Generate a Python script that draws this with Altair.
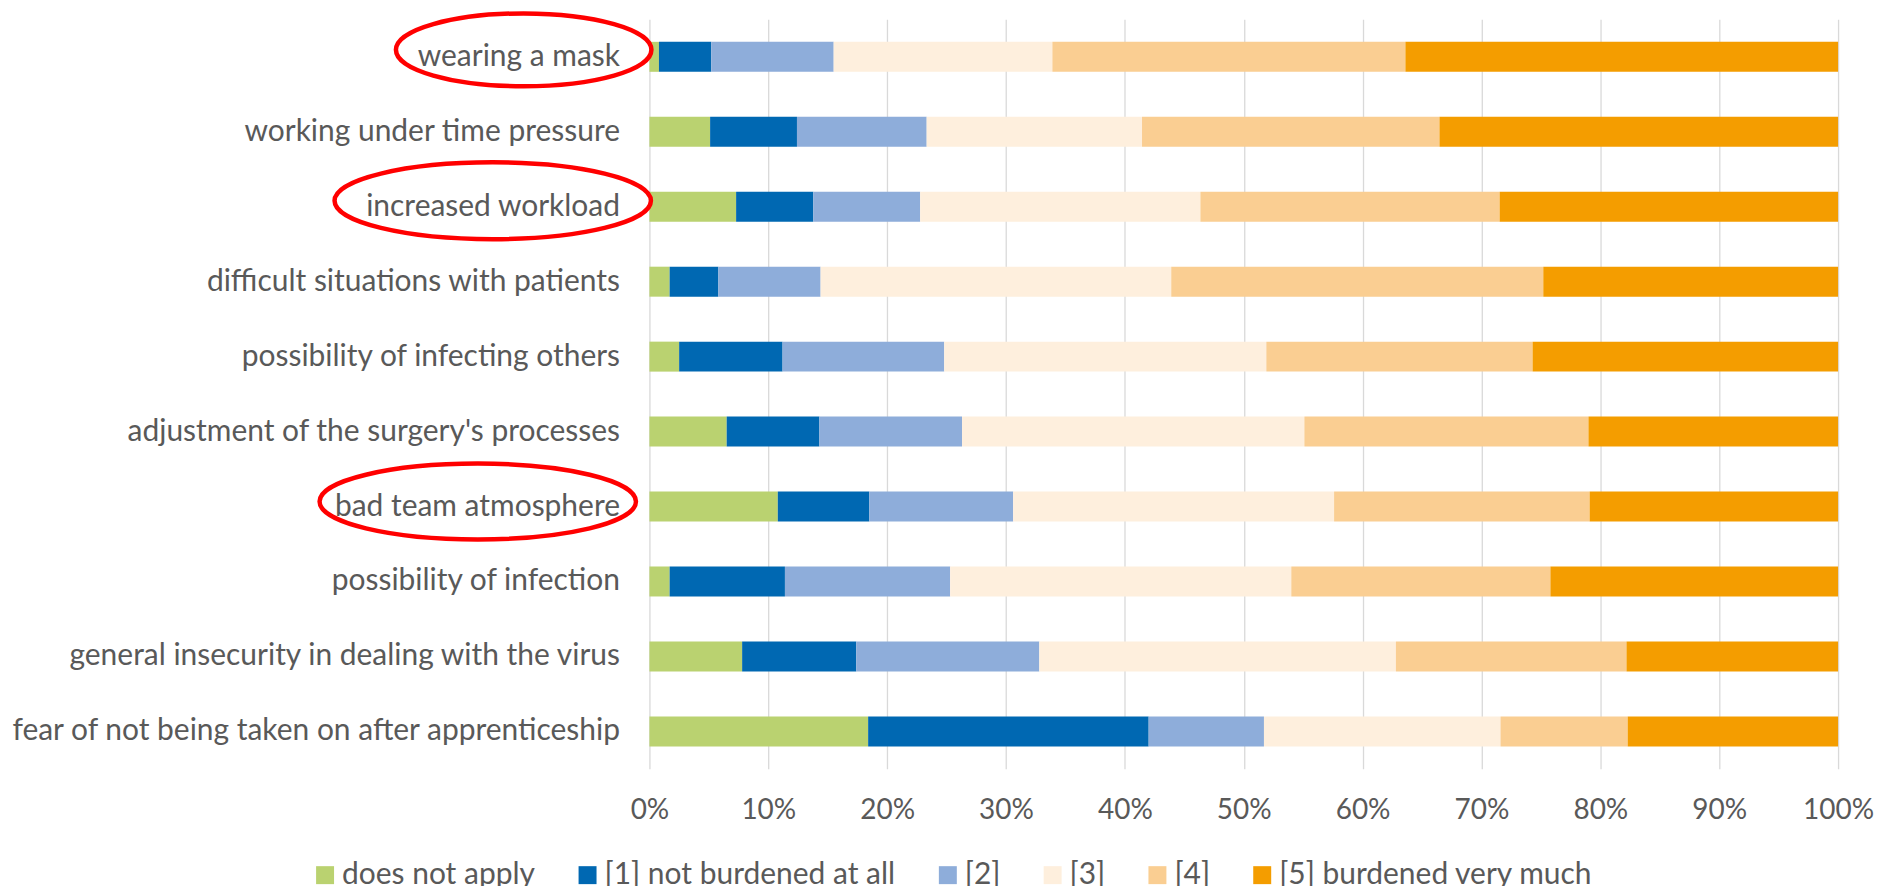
import altair as alt
import pandas as pd

# ---------------- data ----------------
categories = [
    "wearing a mask",
    "working under time pressure",
    "increased workload",
    "difficult situations with patients",
    "possibility of infecting others",
    "adjustment of the surgery's processes",
    "bad team atmosphere",
    "possibility of infection",
    "general insecurity in dealing with the virus",
    "fear of not being taken on after apprenticeship",
]
levels = [
    "does not apply",
    "[1] not burdened at all",
    "[2]",
    "[3]",
    "[4]",
    "[5] burdened very much",
]
colors = ["#BAD270", "#0068B2", "#8EADDA", "#FEEFDD", "#FACE92", "#F49D00"]

does_not_apply = [0.8, 5.1, 7.3, 1.7, 2.5, 6.5, 10.8, 1.7, 7.8, 18.4]
not_burdened_at_all = [4.4, 7.3, 6.5, 4.1, 8.7, 7.8, 7.7, 9.7, 9.6, 23.6]
level_2 = [10.3, 10.9, 9.0, 8.6, 13.6, 12.0, 12.1, 13.9, 15.4, 9.7]
level_3 = [18.4, 18.1, 23.6, 29.5, 27.1, 28.8, 27.0, 28.7, 30.0, 19.9]
level_4 = [29.7, 25.0, 25.2, 31.3, 22.4, 23.9, 21.5, 21.8, 19.4, 10.7]
burdened_very_much = [36.4, 33.5, 28.5, 24.8, 25.7, 21.0, 20.9, 24.2, 17.8, 17.7]

highlighted = ["wearing a mask", "increased workload", "bad team atmosphere"]

x_ticks = [0, 0.1, 0.2, 0.3, 0.4, 0.5, 0.6, 0.7, 0.8, 0.9, 1.0]

# ---------------- build table ----------------
series = [does_not_apply, not_burdened_at_all, level_2, level_3, level_4, burdened_very_much]
rows = []
for li, (lvl, vals) in enumerate(zip(levels, series)):
    for cat, v in zip(categories, vals):
        rows.append({"category": cat, "level": lvl, "order": li, "value": v})
df = pd.DataFrame(rows)

FONT = "Lato"
TXT = "#595959"

y_enc = alt.Y(
    "category:N",
    sort=categories,
    scale=alt.Scale(paddingInner=0.6, paddingOuter=0.3),
    axis=alt.Axis(
        title=None, domain=False, ticks=False, labelPadding=30,
        labelFontSize=30, labelFont=FONT, labelColor=TXT, labelLimit=900,
    ),
)

bars = alt.Chart(df).mark_bar().encode(
    x=alt.X(
        "value:Q",
        stack="normalize",
        scale=alt.Scale(domain=[0, 1], nice=False),
        axis=alt.Axis(
            title=None, values=x_ticks, format=".0%", grid=True,
            gridColor="#D9D9D9", gridWidth=1.3, domain=False, ticks=False,
            labelPadding=28, labelFontSize=28, labelFont=FONT, labelColor=TXT,
            labelFlush=False,
        ),
    ),
    y=y_enc,
    color=alt.Color(
        "level:N",
        scale=alt.Scale(domain=levels, range=colors),
        legend=alt.Legend(
            title=None, orient="none", legendX=-340, legendY=842.5,
            direction="horizontal", columns=6, columnPadding=37,
            symbolType="square", symbolSize=324, symbolStrokeWidth=0,
            labelOffset=2, labelFontSize=30, labelFont=FONT, labelColor=TXT,
            labelLimit=0, padding=0,
        ),
    ),
    order=alt.Order("order:Q"),
)


def ellipse_path(rx, ry):
    k = 0.5523
    return (
        f"M {-rx} 0 "
        f"C {-rx} {-k * ry} {-k * rx} {-ry} 0 {-ry} "
        f"C {k * rx} {-ry} {rx} {-k * ry} {rx} 0 "
        f"C {rx} {k * ry} {k * rx} {ry} 0 {ry} "
        f"C {-k * rx} {ry} {-rx} {k * ry} {-rx} 0 Z"
    )


# red ellipses around highlighted labels (annotation): x-centre, rx, ry, y-shift
ellipse_geom = {
    "wearing a mask": (-126, 128, 36.5, -7),
    "increased workload": (-157, 158.5, 38.5, -6),
    "bad team atmosphere": (-172, 158.5, 38.0, -5),
}
layers = [bars]
for cat in highlighted:
    cx, rx, ry, dy = ellipse_geom[cat]
    e = alt.Chart(pd.DataFrame({"category": [cat]})).mark_point(
        shape=ellipse_path(rx, ry), size=4, filled=False, stroke="#FF0000",
        strokeWidth=4.5, opacity=1, yOffset=dy,
    ).encode(
        x=alt.value(cx),
        y=alt.Y("category:N", sort=categories),
    )
    layers.append(e)

chart = alt.layer(*layers).properties(
    width=1191,
    height=751,
    padding={"left": 642.7, "top": 10.5, "right": 37, "bottom": 116.5},
    autosize=alt.AutoSizeParams(type="none"),
).configure_view(stroke=None)

chart.save("out.html", embed_options={"renderer": "svg", "actions": False})
